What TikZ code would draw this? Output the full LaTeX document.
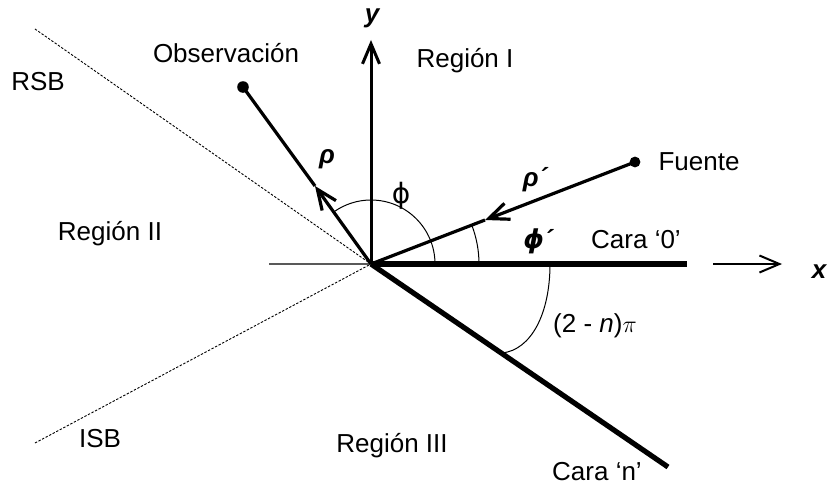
\documentclass[tikz,border=0pt]{standalone}
\usepackage{fontspec}
\setmainfont{Liberation Sans}
\newfontfamily\dvfont{DejaVu Sans}
\usetikzlibrary{arrows.meta}
\begin{document}
\begin{tikzpicture}[x=0.5pt,y=0.5pt,
  lbl/.style={font=\fontsize{13}{15}\selectfont, inner sep=0pt, anchor=base},
  sym/.style={font=\fontsize{13}{15}\selectfont, inner sep=0pt},
  bisym/.style={font=\fontsize{13}{15}\selectfont\bfseries\itshape},
  barb/.style={-{Straight Barb[length=10pt,width=8.5pt]}},
  axis/.style={line width=1.5pt},
  ray/.style={line width=1.6pt},
  face/.style={line width=2.6pt},
  bnd/.style={line width=0.45pt, dash pattern=on 1.2pt off 0.8pt},
  ang/.style={line width=0.5pt},
  dotmark/.style={fill=black}]
\useasboundingbox (-371,-229) rectangle (457,264);
% points
\coordinate (O) at (0,0);
\coordinate (L) at (-102,0);
\coordinate (C0) at (316,0);
\coordinate (Cn) at (297,-203);
\coordinate (Yt) at (0,224);
\coordinate (Xa) at (342,0);
\coordinate (Xb) at (411,0);
\coordinate (Obs) at (-128,177);
\coordinate (P) at (-56,78);
\coordinate (F) at (264,102);
\coordinate (Q) at (114,44);
\coordinate (R1) at (-336,235);
\coordinate (I1) at (-336,-179);
% boundaries
\draw[bnd] (R1) -- (O);
\draw[bnd] (I1) -- (O);
\draw[line width=0.7pt, gray!70!black] (L) -- (O);
% faces
\draw[face] (O) -- (C0);
\draw[face] (O) -- (Cn);
% axes
\draw[axis, barb] (O) -- (Yt);
\draw[line width=1pt, barb] (Xa) -- (Xb);
% observation ray
\draw[ray] (Obs) -- (P);
\draw[ray, barb] (O) -- (P);
\fill[dotmark] (Obs) circle[radius=2.9pt];
% source ray
\draw[ray, barb] (F) -- (Q);
\draw[ray] (Q) -- (O);
\fill[dotmark] (F) circle[radius=2.7pt];
% angles
\draw[ang] (64,0) arc[start angle=0, end angle=125.9, radius=32pt];
\draw[ang] (108,0) arc[start angle=0, end angle=21.1, radius=54pt];
\draw[ang] (179,0) .. controls (179,-50) and (160,-86) .. (131,-89);
% labels
\node[lbl] (tRSB) at (-333,174) {RSB};
\node[lbl] (tObs) at (-145,202) {Observación};
\node[lbl] (tR1) at (94,197) {Región I};
\node[lbl] (tR2) at (-261,24) {Región II};
\node[lbl] (tISB) at (-271,-183) {ISB};
\node[lbl] (tR3) at (21,-188) {Región III};
\node[lbl] (tCn) at (226,-216) {Cara ‘n’};
\node[lbl] (tF) at (328,94) {Fuente};
\node[lbl] (tC0) at (265,16) {Cara ‘0’};
\node[lbl, bisym] (tphip) at (167,16) {{\dvfont\bfseries\itshape ϕ}´};
\node[lbl] (tang) at (224,-68) {(2 - \textit{n})$\pi$};
\node[lbl, bisym] (tx) at (448,-14) {x};
\node[lbl, bisym] (ty) at (1,242) {y};
\node[sym, bisym] (trho) at (-44,105) {ρ};
\node[sym, bisym] (trhop) at (164,84) {ρ´};
\node[sym, font=\fontsize{14}{16}\selectfont\dvfont] (tphi) at (30,68) {ϕ};
\end{tikzpicture}
\end{document}
